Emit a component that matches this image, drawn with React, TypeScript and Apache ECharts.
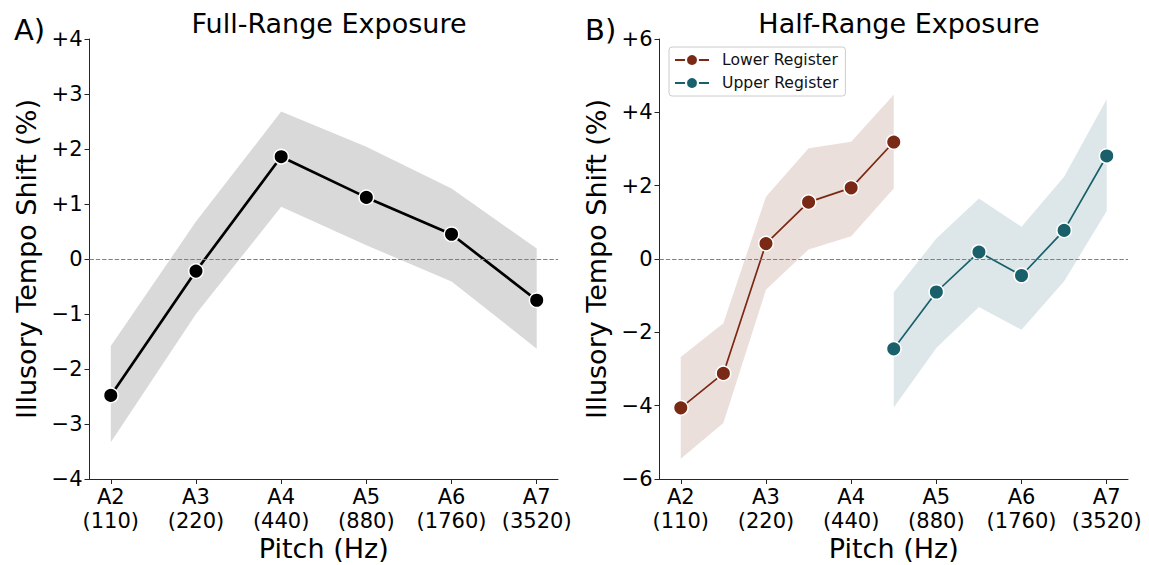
import React, { useEffect, useRef } from "react";
import * as echarts from "echarts";

const noteLabels = ["A2", "A3", "A4", "A5", "A6", "A7"];
const hzLabels = ["110", "220", "440", "880", "1760", "3520"];
const tickPositions = [0, 1, 2, 3, 4, 5];

// Panel A: full-range exposure
const fullX = [0, 1, 2, 3, 4, 5];
const fullMean = [-2.48, -0.22, 1.86, 1.12, 0.45, -0.75];
const fullLow = [-3.33, -1.0, 0.95, 0.25, -0.41, -1.63];
const fullHigh = [-1.58, 0.68, 2.68, 2.04, 1.28, 0.19];

// Panel B: half-range exposure
const lowerX = [0, 0.5, 1, 1.5, 2, 2.5];
const lowerMean = [-4.06, -3.12, 0.42, 1.55, 1.94, 3.19];
const lowerLow = [-5.45, -4.47, -0.84, 0.26, 0.62, 1.92];
const lowerHigh = [-2.67, -1.75, 1.7, 3.02, 3.2, 4.48];

const upperX = [2.5, 3, 3.5, 4, 4.5, 5];
const upperMean = [-2.45, -0.9, 0.19, -0.45, 0.78, 2.81];
const upperLow = [-4.05, -2.43, -1.31, -1.93, -0.61, 1.31];
const upperHigh = [-0.91, 0.56, 1.65, 0.88, 2.24, 4.36];

const FONT = "DejaVu Sans";
const LOWER_COLOR = "#7a2914";
const UPPER_COLOR = "#1a606b";
const AXIS_COLOR = "#262626";

function fmtY(v: number) {
  if (v > 0) return "+" + v;
  if (v < 0) return "\u2212" + Math.abs(v);
  return "0";
}

function bandSeries(xs: number[], lo: number[], hi: number[], fill: string, idx: number) {
  return {
    type: "custom",
    xAxisIndex: idx,
    yAxisIndex: idx,
    silent: true,
    z: 1,
    encode: { x: 0, y: [1, 2] },
    data: xs.map((x, i) => [x, lo[i], hi[i]]),
    renderItem: (params: any, api: any) => {
      if (params.dataIndex !== 0) return null;
      const pts: number[][] = [];
      for (let i = 0; i < xs.length; i++) pts.push(api.coord([xs[i], hi[i]]));
      for (let i = xs.length - 1; i >= 0; i--) pts.push(api.coord([xs[i], lo[i]]));
      return { type: "polygon", shape: { points: pts }, style: { fill } };
    },
  };
}

function xAxisCfg(gridIndex: number) {
  return {
    type: "value",
    gridIndex,
    min: -0.25,
    max: 5.25,
    name: "Pitch (Hz)",
    nameLocation: "middle",
    nameGap: 56,
    nameMoveOverlap: false,
    nameTextStyle: { fontFamily: FONT, fontSize: 27, color: "#000" },
    axisLine: { show: true, onZero: false, lineStyle: { color: AXIS_COLOR, width: 1 } },
    axisTick: { show: true, length: 5, customValues: tickPositions, lineStyle: { color: AXIS_COLOR } },
    axisLabel: {
      customValues: tickPositions,
      fontFamily: FONT,
      fontSize: 21,
      color: "#000",
      lineHeight: 24,
      margin: 6,
      formatter: (v: number) => {
        const i = Math.round(v);
        return noteLabels[i] + "\n(" + hzLabels[i] + ")";
      },
    },
    splitLine: { show: false },
  };
}

function yAxisCfg(gridIndex: number, min: number, max: number, interval: number) {
  return {
    type: "value",
    gridIndex,
    min,
    max,
    interval,
    name: "Illusory Tempo Shift (%)",
    nameLocation: "middle",
    nameRotate: 90,
    nameGap: 50,
    nameMoveOverlap: false,
    nameTextStyle: { fontFamily: FONT, fontSize: 27, color: "#000" },
    axisLine: { show: true, onZero: false, lineStyle: { color: AXIS_COLOR, width: 1 } },
    axisTick: { show: true, length: 5, lineStyle: { color: AXIS_COLOR } },
    axisLabel: { fontFamily: FONT, fontSize: 21, color: "#000", margin: 7, formatter: fmtY },
    splitLine: { show: false },
  };
}

const zeroLine = {
  silent: true,
  symbol: ["none", "none"],
  label: { show: false },
  lineStyle: { type: [4.4, 1.9], color: "#808080", width: 1.2 },
  data: [{ yAxis: 0 }],
};

export default function App() {
  const ref = useRef<HTMLDivElement>(null);
  useEffect(() => {
    if (!ref.current) return;
    const chart = echarts.init(ref.current, null, { renderer: "svg" });
    const titleStyle = { fontFamily: FONT, fontSize: 27, fontWeight: "normal", color: "#000" };
    const panelStyle = { fontFamily: FONT, fontSize: 29, fontWeight: "normal", color: "#000" };
    chart.setOption({
      animation: false,
      backgroundColor: "#fff",
      textStyle: { fontFamily: FONT },
      title: [
        { text: "Full-Range Exposure", left: 324, top: 5, textAlign: "center", textStyle: titleStyle },
        { text: "Half-Range Exposure", left: 894, top: 5, textAlign: "center", textStyle: titleStyle },
        { text: "A)", left: 9, top: 10, textStyle: panelStyle },
        { text: "B)", left: 580, top: 10, textStyle: panelStyle },
      ],
      grid: [
        { left: 89.5, top: 39, width: 468.5, height: 440, containLabel: false, outerBoundsMode: "none" },
        { left: 659.5, top: 39, width: 468.5, height: 440, containLabel: false, outerBoundsMode: "none" },
      ],
      xAxis: [xAxisCfg(0), xAxisCfg(1)],
      yAxis: [yAxisCfg(0, -4, 4, 1), yAxisCfg(1, -6, 6, 2)],
      legend: {
        data: ["Lower Register", "Upper Register"],
        orient: "vertical",
        left: 669,
        top: 47,
        itemWidth: 34,
        itemHeight: 15,
        itemGap: 7,
        padding: [5, 7, 5, 5],
        borderColor: "#cccccc",
        borderWidth: 1,
        borderRadius: 3,
        backgroundColor: "rgba(255,255,255,0.8)",
        textStyle: { fontFamily: FONT, fontSize: 15.6, color: "#111", padding: [0, 0, 0, 8] },
      },
      series: [
        bandSeries(fullX, fullLow, fullHigh, "#d9d9d9", 0),
        bandSeries(lowerX, lowerLow, lowerHigh, "rgba(122,41,20,0.15)", 1),
        bandSeries(upperX, upperLow, upperHigh, "rgba(26,96,107,0.15)", 1),
        {
          type: "line",
          name: "Full",
          xAxisIndex: 0,
          yAxisIndex: 0,
          z: 3,
          data: fullX.map((x, i) => [x, fullMean[i]]),
          symbol: "circle",
          symbolSize: 14.5,
          lineStyle: { color: "#000", width: 2.7 },
          itemStyle: { color: "#000", borderColor: "#fff", borderWidth: 1.5 },
          markLine: zeroLine,
        },
        {
          type: "line",
          name: "Lower Register",
          xAxisIndex: 1,
          yAxisIndex: 1,
          z: 3,
          data: lowerX.map((x, i) => [x, lowerMean[i]]),
          symbol: "circle",
          symbolSize: 14.5,
          lineStyle: { color: LOWER_COLOR, width: 1.7 },
          itemStyle: { color: LOWER_COLOR, borderColor: "#fff", borderWidth: 1.5 },
          markLine: zeroLine,
        },
        {
          type: "line",
          name: "Upper Register",
          xAxisIndex: 1,
          yAxisIndex: 1,
          z: 3,
          data: upperX.map((x, i) => [x, upperMean[i]]),
          symbol: "circle",
          symbolSize: 14.5,
          lineStyle: { color: UPPER_COLOR, width: 1.7 },
          itemStyle: { color: UPPER_COLOR, borderColor: "#fff", borderWidth: 1.5 },
        },
      ],
    });
    return () => chart.dispose();
  }, []);
  return (
    <div
      ref={ref}
      style={{ position: "fixed", left: 0, top: 0, width: 1149, height: 565, background: "#fff" }}
    />
  );
}
